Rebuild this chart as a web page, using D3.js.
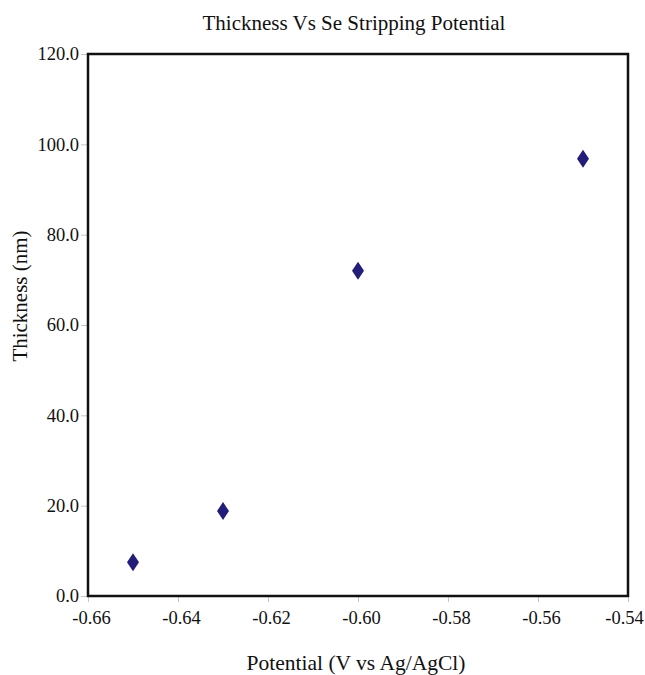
<!DOCTYPE html>
<html>
<head>
<meta charset="utf-8">
<script src="https://cdn.jsdelivr.net/npm/d3@7"></script>
<style>
  body { margin: 0; background: #fff; }
  text { font-family: "Liberation Serif", "Times New Roman", serif; fill: #111; }
</style>
</head>
<body>
<div id="chart"></div>
<script>
// data
var potential = [-0.65, -0.63, -0.60, -0.55];
var thickness = [7.5, 18.8, 72.0, 96.8];
var xTicks = [-0.66, -0.64, -0.62, -0.60, -0.58, -0.56, -0.54];
var yTicks = [0, 20, 40, 60, 80, 100, 120];

var svgWidth = 645;
var svgHeight = 675;
var margin = { top: 54, right: 17, bottom: 79, left: 88 };
var width = svgWidth - margin.left - margin.right;
var height = svgHeight - margin.top - margin.bottom;

var svg = d3.select("#chart")
  .append("svg")
  .attr("width", svgWidth)
  .attr("height", svgHeight);

var chartGroup = svg.append("g")
  .attr("transform", `translate(${margin.left}, ${margin.top})`);

var xScale = d3.scaleLinear().domain([-0.66, -0.54]).range([0, width]);
var yScale = d3.scaleLinear().domain([0, 120]).range([height, 0]);

// axes, plain hyphen like the original
var bottomAxis = d3.axisBottom(xScale)
  .tickValues(xTicks)
  .tickFormat(function(d) { return d.toFixed(2); })
  .tickSize(6)
  .tickPadding(9);
var leftAxis = d3.axisLeft(yScale)
  .tickValues(yTicks)
  .tickFormat(function(d) { return d.toFixed(1); })
  .tickSize(7)
  .tickPadding(2);

var xg = chartGroup.append("g")
  .attr("transform", `translate(0, ${height})`)
  .call(bottomAxis);
var yg = chartGroup.append("g").call(leftAxis);

[xg, yg].forEach(function(g) {
  g.attr("font-family", null);
  g.select(".domain").remove();
  g.selectAll(".tick line").attr("stroke", "#c4c4c4");
  g.selectAll(".tick text")
    .style("font-family", "'Liberation Serif', serif")
    .style("font-size", "18.5px")
    .attr("fill", "#111");
});
xg.selectAll(".tick text").attr("dx", function(d, i) {
  return i === xTicks.length - 1 ? -4 : 3;
});

// plot frame
chartGroup.append("rect")
  .attr("x", 0)
  .attr("y", 0)
  .attr("width", width)
  .attr("height", height)
  .attr("fill", "none")
  .attr("stroke", "#111")
  .attr("stroke-width", 2.5);

// diamonds
var diamond = "M0,-9 L6,0 L0,9 L-6,0 Z";
chartGroup.selectAll(".pt")
  .data(potential)
  .enter()
  .append("path")
  .attr("class", "pt")
  .attr("d", diamond)
  .attr("transform", function(d, i) {
    return `translate(${xScale(d)}, ${yScale(thickness[i])})`;
  })
  .attr("fill", "#221c7a");

// title and axis labels
svg.append("text")
  .attr("x", 354)
  .attr("y", 30)
  .attr("text-anchor", "middle")
  .style("font-size", "21px")
  .text("Thickness Vs Se Stripping Potential");

svg.append("text")
  .attr("transform", "rotate(-90)")
  .attr("x", -296)
  .attr("y", 27)
  .attr("text-anchor", "middle")
  .style("font-size", "21px")
  .text("Thickness (nm)");

svg.append("text")
  .attr("x", 356)
  .attr("y", 670)
  .attr("text-anchor", "middle")
  .style("font-size", "21.5px")
  .text("Potential (V vs Ag/AgCl)");
</script>
</body>
</html>
